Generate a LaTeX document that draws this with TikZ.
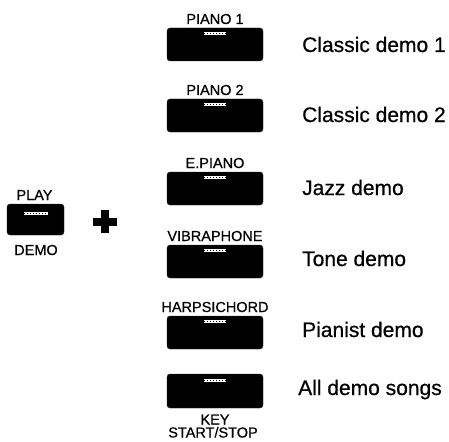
\documentclass[tikz,border=0pt]{standalone}
\usepackage{fontspec}
\setmainfont{Liberation Sans}
\newfontfamily\heavyfont[FakeBold=0.6]{Liberation Sans}
\begin{document}
\begin{tikzpicture}[x=1pt,y=-1pt,
  btn/.style={fill=black, draw=black!85, rounded corners=3pt, minimum width=96pt, minimum height=33pt, inner sep=0pt},
  btnmark/.style={fill=white, minimum width=22pt, minimum height=3pt, inner sep=0pt,
    path picture={\draw[black, line width=0.8pt, dash pattern=on 1pt off 2pt] (path picture bounding box.west) -- (path picture bounding box.east);}},
  lbl/.style={font=\heavyfont\fontsize{14.5}{16}\selectfont, anchor=base, inner sep=0pt},
  desc/.style={font=\heavyfont\fontsize{21}{25}\selectfont, anchor=base west, inner sep=0pt}]
\useasboundingbox (0,0) rectangle (449,441);
% left button
\node[btn, minimum width=57pt, minimum height=31pt] (play) at (35.5,219.5) {};
\node[btnmark, minimum width=24pt] (playm) at (36,213) {};
\node[lbl] (playl) at (34.5,200) {PLAY};
\node[lbl] (demol) at (36,255) {DEMO};
% plus sign
\fill (93,217.5) rectangle (117,225.5);
\fill (101,210) rectangle (109,233);
% right buttons
\node[btn] (b1) at (215,44.5) {};
\node[btnmark] (m1) at (215,33.5) {};
\node[lbl] (l1) at (215,24) {PIANO 1};
\node[desc] (d1) at (302,52) {Classic demo 1};

\node[btn] (b2) at (215,115.5) {};
\node[btnmark] (m2) at (215,104.5) {};
\node[lbl] (l2) at (215,95) {PIANO 2};
\node[desc] (d2) at (302,122) {Classic demo 2};

\node[btn] (b3) at (215,188.5) {};
\node[btnmark] (m3) at (215,177.5) {};
\node[lbl] (l3) at (215,168) {E.PIANO};
\node[desc] (d3) at (302,195) {Jazz demo};

\node[btn] (b4) at (215,261.5) {};
\node[btnmark] (m4) at (215,250.5) {};
\node[lbl] (l4) at (215,241) {VIBRAPHONE};
\node[desc] (d4) at (302,266) {Tone demo};

\node[btn] (b5) at (215,332.5) {};
\node[btnmark] (m5) at (215,321.5) {};
\node[lbl] (l5) at (215,312) {HARPSICHORD};
\node[desc] (d5) at (302,337) {Pianist demo};

\node[btn, minimum height=34pt] (b6) at (215,391) {};
\node[btnmark] (m6) at (215,380) {};
\node[lbl] (l6a) at (215,424.5) {KEY};
\node[lbl] (l6b) at (213,437.5) {START/STOP};
\node[desc] (d6) at (298,395) {All demo songs};
\end{tikzpicture}
\end{document}
